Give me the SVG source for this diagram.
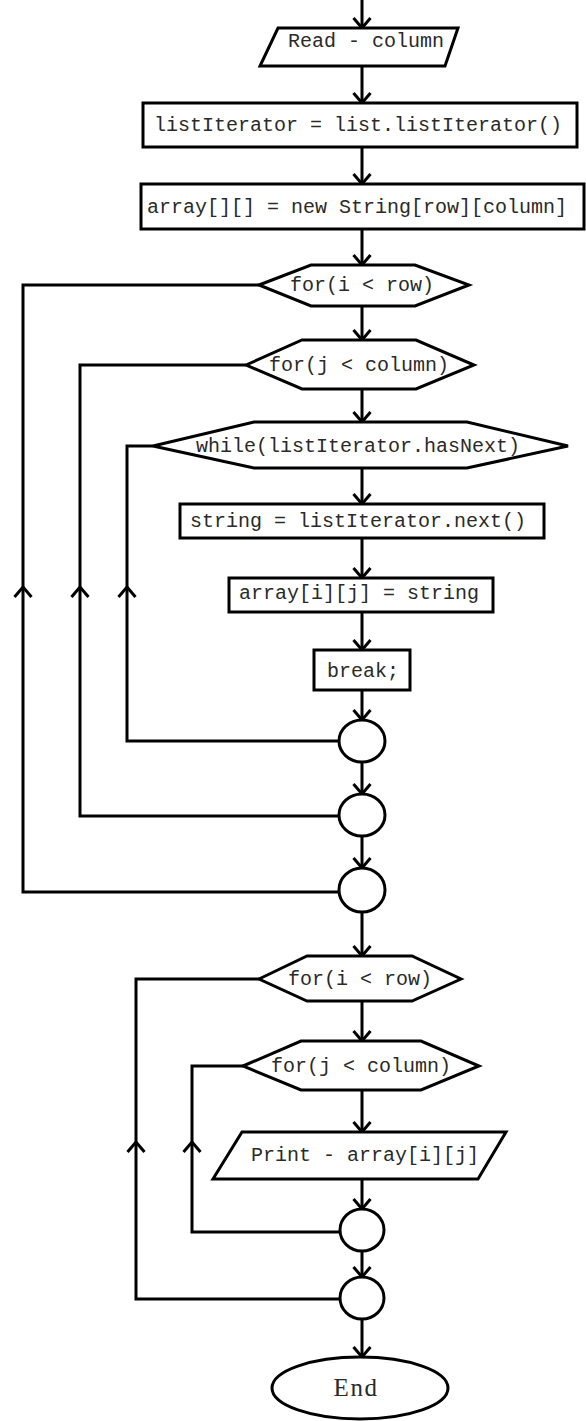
<svg xmlns="http://www.w3.org/2000/svg" width="586" height="1421" viewBox="0 0 586 1421">
<style>
.s{fill:#fff;stroke:#000;stroke-width:3}
.c{fill:none;stroke:#000;stroke-width:3}
.t{font-family:"Liberation Mono","Courier New",monospace;font-size:20px;fill:#2a2a2a;text-anchor:middle}
.e{font-family:"Liberation Serif","Times New Roman",serif;font-size:25px;fill:#2a2a2a;text-anchor:middle;letter-spacing:1.5px}
</style>
<defs>
<marker id="a" markerUnits="userSpaceOnUse" markerWidth="24" markerHeight="24" refX="0" refY="0" orient="auto" overflow="visible">
<path d="M-10,-8.5 L0,0 L-10,8.5" fill="none" stroke="#000" stroke-width="3"/>
</marker>
</defs>
<rect width="586" height="1421" fill="#fff"/>
<g id="connectors" class="c">
<path d="M362,0 V28" marker-end="url(#a)"/>
<path d="M362,66 V103" marker-end="url(#a)"/>
<path d="M362,147 V184" marker-end="url(#a)"/>
<path d="M362,229 V265" marker-end="url(#a)"/>
<path d="M362,306 V340" marker-end="url(#a)"/>
<path d="M362,389 V422" marker-end="url(#a)"/>
<path d="M362,468 V504" marker-end="url(#a)"/>
<path d="M362,538 V578" marker-end="url(#a)"/>
<path d="M362,612 V650" marker-end="url(#a)"/>
<path d="M362,690 V720" marker-end="url(#a)"/>
<path d="M362,762 V794" marker-end="url(#a)"/>
<path d="M362,836 V868" marker-end="url(#a)"/>
<path d="M362,912 V956" marker-end="url(#a)"/>
<path d="M362,1001 V1041" marker-end="url(#a)"/>
<path d="M362,1090 V1132" marker-end="url(#a)"/>
<path d="M362,1179 V1209" marker-end="url(#a)"/>
<path d="M362,1251 V1277" marker-end="url(#a)"/>
<path d="M362,1319 V1357" marker-end="url(#a)"/>
<path d="M340,741 H127 V587" marker-end="url(#a)"/>
<path d="M127,587 V446 H153"/>
<path d="M340,816 H80 V587" marker-end="url(#a)"/>
<path d="M80,587 V365 H246"/>
<path d="M340,892 H23 V587" marker-end="url(#a)"/>
<path d="M23,587 V285 H259"/>
<path d="M341,1232 H192 V1142" marker-end="url(#a)"/>
<path d="M192,1142 V1066 H243"/>
<path d="M341,1299 H136 V1142" marker-end="url(#a)"/>
<path d="M136,1142 V979 H259"/>
</g>
<g id="read"><polygon class="s" points="278,28 458,28 445,66 260,66"/><text class="t" x="366" y="47">Read - column</text></g>
<g id="listIter"><rect class="s" x="143" y="103" width="434" height="44"/><text class="t" x="358" y="131">listIterator = list.listIterator()</text></g>
<g id="arrayNew"><rect class="s" x="141" y="184" width="443" height="45"/><text class="t" x="357" y="213">array[][] = new String[row][column]</text></g>
<g id="forI1"><polygon class="s" points="259,285 311,265 415,265 469,285 415,306 311,306"/><text class="t" x="362" y="291">for(i &lt; row)</text></g>
<g id="forJ1"><polygon class="s" points="246,365 302,340 416,340 474,365 416,389 302,389"/><text class="t" x="359" y="371">for(j &lt; column)</text></g>
<g id="while"><polygon class="s" points="153,446 254,422 467,422 568,446 467,468 254,468"/><text class="t" x="358" y="452">while(listIterator.hasNext)</text></g>
<g id="next"><rect class="s" x="180" y="504" width="364" height="34"/><text class="t" x="358" y="527">string = listIterator.next()</text></g>
<g id="assign"><rect class="s" x="229" y="578" width="264" height="34"/><text class="t" x="359" y="599">array[i][j] = string</text></g>
<g id="break"><rect class="s" x="314" y="650" width="96" height="40"/><text class="t" x="363" y="677">break;</text></g>
<g id="j1"><ellipse class="s" cx="362" cy="741" rx="23" ry="21"/></g>
<g id="j2"><ellipse class="s" cx="362" cy="815" rx="23" ry="21"/></g>
<g id="j3"><ellipse class="s" cx="362" cy="890" rx="23" ry="22"/></g>
<g id="forI2"><polygon class="s" points="259,979 307,956 412,956 461,979 412,1001 307,1001"/><text class="t" x="360" y="985">for(i &lt; row)</text></g>
<g id="forJ2"><polygon class="s" points="243,1066 301,1041 421,1041 479,1066 421,1090 301,1090"/><text class="t" x="361" y="1072">for(j &lt; column)</text></g>
<g id="print"><polygon class="s" points="242,1132 506,1132 478,1179 213,1179"/><text class="t" x="365" y="1161">Print - array[i][j]</text></g>
<g id="j4"><ellipse class="s" cx="362" cy="1230" rx="22" ry="21"/></g>
<g id="j5"><ellipse class="s" cx="362" cy="1298" rx="22" ry="21"/></g>
<g id="end"><ellipse class="s" cx="360" cy="1388" rx="88" ry="31"/><text class="e" x="356" y="1396">End</text></g>
</svg>
